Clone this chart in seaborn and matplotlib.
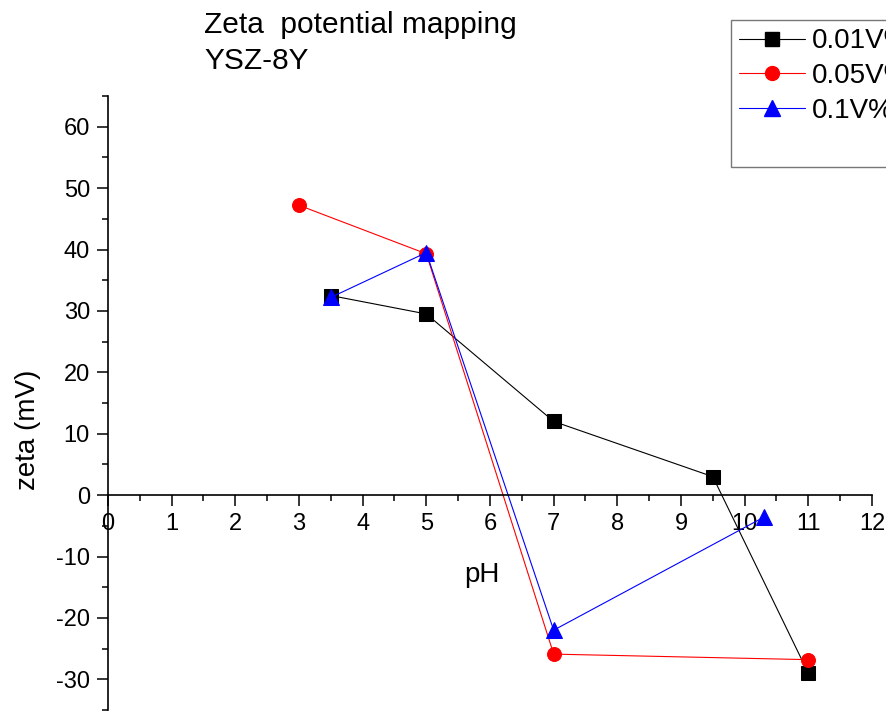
import matplotlib
matplotlib.use("Agg")
import matplotlib.pyplot as plt
import seaborn as sns
import pandas as pd
from matplotlib.lines import Line2D
from matplotlib.ticker import MultipleLocator

sns.set_style("white")
plt.rcParams['font.family'] = ['Liberation Sans', 'DejaVu Sans']
plt.rcParams['axes.unicode_minus'] = False
plt.rcParams['text.color'] = 'black'
plt.rcParams['axes.labelcolor'] = 'black'
plt.rcParams['xtick.color'] = 'black'
plt.rcParams['ytick.color'] = 'black'

series_names = ["0.01V%", "0.05V%", "0.1V%"]
ph_001 = [3.5, 5.0, 7.0, 9.5, 11.0]
zeta_001 = [32.5, 29.5, 12.0, 3.0, -29.0]
ph_005 = [3.0, 5.0, 7.0, 11.0]
zeta_005 = [47.2, 39.3, -25.9, -26.8]
ph_01 = [3.5, 5.0, 7.0, 10.3]
zeta_01 = [32.2, 39.5, -22.0, -3.6]

colors = ["black", "red", "blue"]
markers = ["s", "o", "^"]

df = pd.concat([
    pd.DataFrame({"pH": ph_001, "zeta": zeta_001, "series": series_names[0]}),
    pd.DataFrame({"pH": ph_005, "zeta": zeta_005, "series": series_names[1]}),
    pd.DataFrame({"pH": ph_01, "zeta": zeta_01, "series": series_names[2]}),
], ignore_index=True)

fig = plt.figure(figsize=(8.87, 7.13), dpi=100)
ax = fig.add_axes([108/887, 1-710/713, (872-108)/887, (710-96)/713])

for name, c, m in zip(series_names, colors, markers):
    sub = df[df["series"] == name]
    ms = 11 if m == "^" else 10
    sns.lineplot(data=sub, x="pH", y="zeta", ax=ax, color=c, marker=m,
                 markersize=ms, markeredgecolor=c, linewidth=0.8,
                 sort=False, estimator=None, legend=False)

ax.set_xlim(0, 12)
ax.set_ylim(-35, 65)
ax.spines['top'].set_visible(False)
ax.spines['right'].set_visible(False)
ax.spines['bottom'].set_position(('data', 0))
for s in ['left', 'bottom']:
    ax.spines[s].set_linewidth(1.2)
    ax.spines[s].set_color('black')

ax.xaxis.set_major_locator(MultipleLocator(1))
ax.xaxis.set_minor_locator(MultipleLocator(0.5))
ax.yaxis.set_major_locator(MultipleLocator(10))
ax.yaxis.set_minor_locator(MultipleLocator(5))
ax.tick_params(axis='both', which='major', direction='out', length=8, width=1.1,
               labelsize=17, color='black', labelcolor='black', bottom=True, left=True)
ax.tick_params(axis='both', which='minor', direction='out', length=4, width=1.1,
               color='black', bottom=True, left=True)
ax.tick_params(axis='y', pad=5)
ax.tick_params(axis='x', pad=5)
ax.set_yticks(range(-30, 61, 10))

ax.set_xlabel("")
ax.set_ylabel("")
ax.text(5.88, -13, "pH", fontsize=20, ha='center', va='center', color='black')
fig.text(28/887, 1-430/713, "zeta (mV)", fontsize=20, rotation=90, ha='center', va='center', color='black')

fig.text(204/887, 1-25/713, "Zeta  potential mapping", fontsize=21.5, ha='left', va='center', color='black')
fig.text(204/887, 1-61/713, "YSZ-8Y", fontsize=21.5, ha='left', va='center', color='black')

handles = [Line2D([], [], color=c, marker=m, markersize=(12 if m == "^" else 10),
                  linewidth=0.8, markeredgecolor=c) for c, m in zip(colors, markers)]
handles.append(Line2D([], [], color='none'))
labels = series_names + [" "]
leg = fig.legend(handles, labels, loc='upper left', bbox_to_anchor=(731/887, 1-20/713),
                 fontsize=20, frameon=True, fancybox=False, edgecolor='#555555',
                 handlelength=2.35, handletextpad=0.25, labelspacing=0.32,
                 borderpad=0.3, borderaxespad=0)
leg.get_frame().set_linewidth(1.0)
for t in leg.get_texts():
    t.set_color('black')

fig.savefig("out.png", dpi=100)
